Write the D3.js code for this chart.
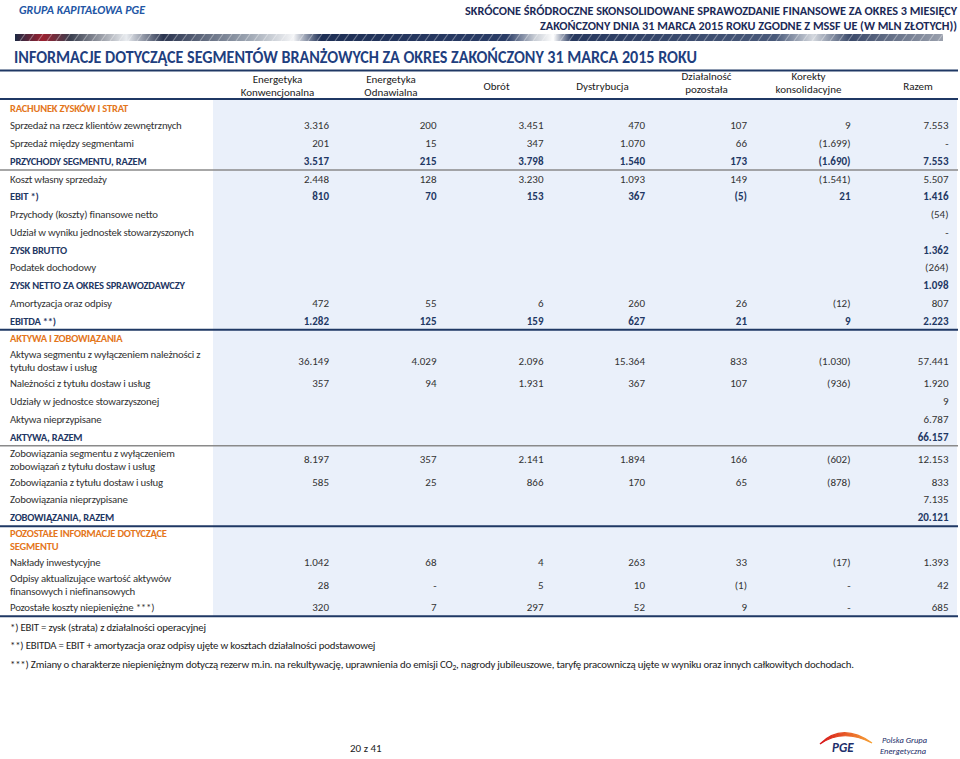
<!DOCTYPE html>
<html><head><meta charset="utf-8">
<script src="https://cdn.jsdelivr.net/npm/d3@7"></script>
<style>
html,body{margin:0;padding:0;background:#fff;}
svg{display:block;font-family:Carlito,Lato,"Open Sans",sans-serif;}
</style></head>
<body>
<svg id="c" width="960" height="759"></svg>
<script>
// ---------- DATA ----------
const columns = ["Energetyka\nKonwencjonalna","Energetyka\nOdnawialna","Obrót","Dystrybucja","Działalność\npozostała","Korekty\nkonsolidacyjne","Razem"];
const rowLabels = [
 "RACHUNEK ZYSKÓW I STRAT",
 "Sprzedaż na rzecz klientów zewnętrznych",
 "Sprzedaż między segmentami",
 "PRZYCHODY SEGMENTU, RAZEM",
 "Koszt własny sprzedaży",
 "EBIT *)",
 "Przychody (koszty) finansowe netto",
 "Udział w wyniku jednostek stowarzyszonych",
 "ZYSK BRUTTO",
 "Podatek dochodowy",
 "ZYSK NETTO ZA OKRES SPRAWOZDAWCZY",
 "Amortyzacja oraz odpisy",
 "EBITDA **)",
 "AKTYWA I ZOBOWIĄZANIA",
 "Aktywa segmentu z wyłączeniem należności z\ntytułu dostaw i usług",
 "Należności z tytułu dostaw i usług",
 "Udziały w jednostce stowarzyszonej",
 "Aktywa nieprzypisane",
 "AKTYWA, RAZEM",
 "Zobowiązania segmentu z wyłączeniem\nzobowiązań z tytułu dostaw i usług",
 "Zobowiązania z tytułu dostaw i usług",
 "Zobowiązania nieprzypisane",
 "ZOBOWIĄZANIA, RAZEM",
 "POZOSTAŁE INFORMACJE DOTYCZĄCE\nSEGMENTU",
 "Nakłady inwestycyjne",
 "Odpisy aktualizujące wartość aktywów\nfinansowych i niefinansowych",
 "Pozostałe koszty niepieniężne  ***)"
];
const rowTypes = ["section","item","item","total","item","total","item","item","total","item","total","item","total",
 "section","item","item","item","item","total","item","item","item","total","section","item","item","item"];
// separator drawn below row: 'gray' or 'navy'
const rowRules = {3:"gray",12:"navy",18:"gray",22:"navy",26:"navy"};

const konwencjonalna = [null,3316,201,3517,2448,810,null,null,null,null,null,472,1282,null,36149,357,null,null,null,8197,585,null,null,null,1042,28,320];
const odnawialna     = [null,200,15,215,128,70,null,null,null,null,null,55,125,null,4029,94,null,null,null,357,25,null,null,null,68,0,7];
const obrot          = [null,3451,347,3798,3230,153,null,null,null,null,null,6,159,null,2096,1931,null,null,null,2141,866,null,null,null,4,5,297];
const dystrybucja    = [null,470,1070,1540,1093,367,null,null,null,null,null,260,627,null,15364,367,null,null,null,1894,170,null,null,null,263,10,52];
const pozostala      = [null,107,66,173,149,-5,null,null,null,null,null,26,21,null,833,107,null,null,null,166,65,null,null,null,33,-1,9];
const korekty        = [null,9,-1699,-1690,-1541,21,null,null,null,null,null,-12,9,null,-1030,-936,null,null,null,-602,-878,null,null,null,-17,0,0];
const razem          = [null,7553,0,7553,5507,1416,-54,0,1362,-264,1098,807,2223,null,57441,1920,9,6787,66157,12153,833,7135,20121,null,1393,42,685];
const series = [konwencjonalna,odnawialna,obrot,dystrybucja,pozostala,korekty,razem];

const footnotes = [
 "*)  EBIT = zysk (strata) z działalności operacyjnej",
 "**) EBITDA = EBIT + amortyzacja oraz odpisy ujęte w kosztach działalności podstawowej",
 "***) Zmiany o charakterze niepieniężnym dotyczą rezerw m.in. na rekultywację, uprawnienia do emisji CO₂, nagrody jubileuszowe, taryfę pracowniczą ujęte w wyniku oraz innych całkowitych dochodach."
];

// ---------- LAYOUT ----------
const NAVY="#1F3864", ORANGE="#E4761B", TXT="#333333", BLUEBG="#EAF0FA";
const svg = d3.select("#c");
const locale = d3.formatLocale({decimal:",",thousands:".",grouping:[3],currency:["",""]});
const fmtN = locale.format(",d");
const fmt = v => v==null ? "" : v===0 ? "-" : v<0 ? "("+fmtN(-v)+")" : fmtN(v);

const colIdx = d3.range(columns.length);
const xRight = d3.scaleOrdinal().domain(colIdx).range([329,436.5,543.5,645,747,850.5,948.5]);
const xHead  = d3.scaleOrdinal().domain(colIdx).range([277.5,391,496.5,602.5,706.5,808.5,918]);

// row geometry
const H1=17.75, H2=27.25, top0=99;
let cur=top0;
const rows = rowLabels.map((lab,i)=>{
  const lines = lab.split("\n");
  const h = lines.length>1?H2:H1;
  const r = {i,lines,type:rowTypes[i],y0:cur,h,yc:cur+h/2};
  cur+=h; return r;
});
const tableBottom = cur;
const yRow = d3.scaleOrdinal().domain(rows.map(r=>r.i)).range(rows.map(r=>r.yc));

// --- page header ---
svg.append("text").attr("x",19).attr("y",14).attr("font-size",12.5).attr("font-weight","bold")
  .attr("font-style","italic").attr("fill","#2356A5").attr("textLength",126).attr("lengthAdjust","spacingAndGlyphs")
  .text("GRUPA KAPITAŁOWA PGE");
svg.append("text").attr("x",957).attr("y",14.5).attr("text-anchor","end").attr("font-size",12).attr("font-weight","bold")
  .attr("fill","#1B2A57").attr("textLength",492).attr("lengthAdjust","spacingAndGlyphs")
  .text("SKRÓCONE ŚRÓDROCZNE SKONSOLIDOWANE SPRAWOZDANIE FINANSOWE ZA OKRES 3 MIESIĘCY");
svg.append("text").attr("x",957).attr("y",29.5).attr("text-anchor","end").attr("font-size",12).attr("font-weight","bold")
  .attr("fill","#1B2A57").attr("textLength",417).attr("lengthAdjust","spacingAndGlyphs")
  .text("ZAKOŃCZONY DNIA 31 MARCA 2015 ROKU ZGODNE Z MSSF UE (W MLN ZŁOTYCH))");

// decorative banner strip
const defs = svg.append("defs");
const g1 = defs.append("linearGradient").attr("id","bn");
[[0,"#1d2a44"],[0.03,"#9c2130"],[0.06,"#3a3f4f"],[0.12,"#e9ecf0"],[0.16,"#2b3550"],[0.25,"#9aa3b0"],[0.3,"#f4f5f7"],[0.33,"#1e2f55"],[0.53,"#2a3c66"],[0.56,"#c8cdd5"],[0.58,"#ffffff"],[0.6,"#27385e"],[0.82,"#4a5a7a"],[0.86,"#d4d8de"],[0.9,"#3b4a6a"],[1,"#9aa0ad"]]
 .forEach(s=>g1.append("stop").attr("offset",s[0]).attr("stop-color",s[1]));
svg.append("rect").attr("x",15).attr("y",34).attr("width",928).attr("height",7).attr("fill","url(#bn)");
const slashes = svg.append("g").attr("stroke","#ffffff").attr("stroke-opacity",0.35).attr("stroke-width",1.2);
d3.range(20,943,9).forEach(x=>slashes.append("line").attr("x1",x).attr("y1",41).attr("x2",x+5).attr("y2",34));

// title
svg.append("text").attr("x",14).attr("y",63).attr("font-size",17.5).attr("font-weight","bold").attr("fill","#1F3F7F")
  .attr("textLength",683).attr("lengthAdjust","spacingAndGlyphs")
  .text("INFORMACJE DOTYCZĄCE SEGMENTÓW BRANŻOWYCH ZA OKRES ZAKOŃCZONY 31 MARCA 2015 ROKU");
svg.append("line").attr("x1",0).attr("x2",958).attr("y1",70.5).attr("y2",70.5).attr("stroke",NAVY).attr("stroke-width",2);

// column headers
const hdr = svg.append("g").attr("font-size",11).attr("fill","#1a1a1a").attr("text-anchor","middle");
columns.forEach((c,j)=>{
  const lines=c.split("\n");
  const base = lines.length===1?86:(j<2?79.5:76);
  lines.forEach((l,k)=>hdr.append("text").attr("x",xHead(j)).attr("y",base+k*13).attr("dy","0.35em").text(l));
});

// blue background for value area
svg.append("rect").attr("x",213).attr("y",top0).attr("width",957-213).attr("height",tableBottom-top0).attr("fill",BLUEBG);
svg.append("line").attr("x1",0).attr("x2",958).attr("y1",top0).attr("y2",top0).attr("stroke",NAVY).attr("stroke-width",2);

// rows
const rg = svg.append("g").attr("font-size",11);
rows.forEach(r=>{
  const col = r.type==="section"?ORANGE:r.type==="total"?NAVY:TXT;
  const fw = r.type==="item"?"normal":"bold";
  const lh = 13;
  r.lines.forEach((l,k)=>{
    rg.append("text").attr("x",10).attr("y",r.yc+(k-(r.lines.length-1)/2)*lh).attr("dy","0.35em")
      .attr("fill",col).attr("font-weight",fw).attr("font-size",r.type==="item"?10.8:10.5)
      .attr("letter-spacing",-0.2).text(l);
  });
  series.forEach((s,j)=>{
    const v=s[r.i]; if(v==null) return;
    rg.append("text").attr("x",xRight(j)).attr("y",yRow(r.i)).attr("dy","0.35em").attr("text-anchor","end")
      .attr("fill",r.type==="total"?NAVY:TXT).attr("font-weight",fw).text(fmt(v));
  });
  const rule=rowRules[r.i];
  if(rule){
    const yy=r.y0+r.h;
    svg.append("line").attr("x1",0).attr("x2",958).attr("y1",yy).attr("y2",yy)
      .attr("stroke",rule==="navy"?NAVY:"#8a8a8a").attr("stroke-width",rule==="navy"?2:1.3);
  }
});

// footnotes
const fg = svg.append("g").attr("font-size",10.8).attr("letter-spacing",-0.2).attr("fill","#222");
footnotes.forEach((f,k)=>{
  const t=fg.append("text").attr("x",10).attr("y",tableBottom+10.5+k*18.5).attr("dy","0.35em");
  if(f.includes("CO₂")){
    const parts=f.split("CO₂");
    t.append("tspan").text(parts[0]+"CO");
    t.append("tspan").attr("font-size",7.5).attr("dy",2.5).text("2");
    t.append("tspan").attr("dy",-2.5).text(parts[1]);
  } else t.text(f);
});

// page number
svg.append("text").attr("x",350).attr("y",748).attr("dy","0.35em").attr("font-size",11).attr("fill","#222").text("20 z 41");

// logo
const lg = svg.append("g");
const lgr = defs.append("linearGradient").attr("id","arc");
lgr.append("stop").attr("offset",0).attr("stop-color","#D7141A");
lgr.append("stop").attr("offset",1).attr("stop-color","#F7A233");
lg.append("path").attr("d","M820,744 Q842,722 872,743 Q843,728 820,744 Z").attr("fill","url(#arc)").attr("stroke","url(#arc)").attr("stroke-width",1.2);
lg.append("text").attr("x",832).attr("y",752).attr("font-size",13).attr("font-weight","bold").attr("font-style","italic").attr("fill","#1E2F6B").text("PGE");
lg.append("text").attr("x",882).attr("y",743).attr("font-size",8.5).attr("font-style","italic").attr("fill","#1E2F6B").text("Polska Grupa");
lg.append("text").attr("x",880).attr("y",753.5).attr("font-size",8.5).attr("font-style","italic").attr("fill","#1E2F6B").text("Energetyczna");
</script>
</body></html>
